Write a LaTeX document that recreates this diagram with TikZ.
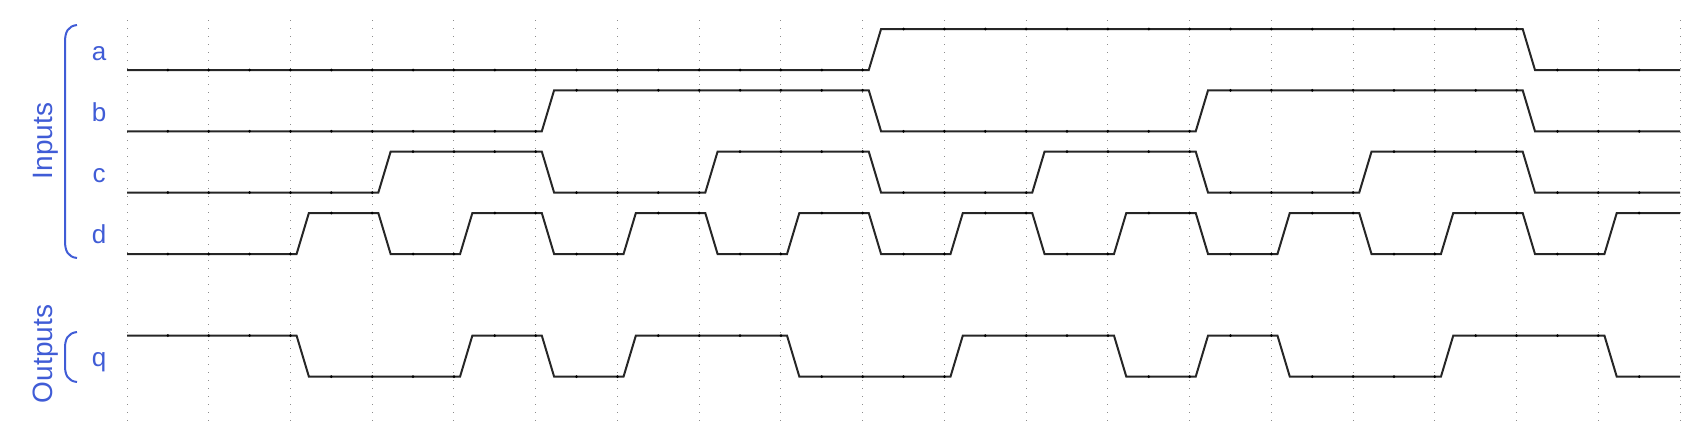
\documentclass[tikz,border=0pt]{standalone}
\usepackage{fontspec}
\setmainfont{Liberation Sans}
\definecolor{grpblue}{RGB}{64,92,214}
\tikzset{
  sig/.style={line width=1pt, black!85, line join=miter},
  dotc/.style={fill=black},
  gridl/.style={line width=0.5pt, black!45, dash pattern=on 0.6pt off 3.4pt},
  brk/.style={line width=1pt, grpblue},
  lanelab/.style={text=grpblue, font=\fontsize{13pt}{15pt}\selectfont, anchor=base, inner sep=0pt},
  grplab/.style={text=grpblue, font=\fontsize{14pt}{16pt}\selectfont, anchor=base, rotate=90, inner sep=0pt}
}
\newcommand\wave[2]{%
  \gdef\prev{-1}\gdef\pts{}\gdef\dts{}%
  \foreach \lv [count=\k from 0] in {#2}{%
    \pgfmathsetmacro\yl{#1-41*\lv}%
    \pgfmathsetmacro\xg{127+\k*81.74}%
    \ifnum\prev=-1\relax
      \xdef\pts{(\xg,\yl)}%
    \else
      \pgfmathsetmacro\yp{#1-41*\prev}%
      \xdef\dts{\dts (\xg,\yp) circle[radius=0.75pt]}%
      \ifnum\prev=\lv\relax\else
        \pgfmathsetmacro\xa{\xg+6.1}%
        \pgfmathsetmacro\xb{\xg+18.4}%
        \xdef\pts{\pts -- (\xa,\yp) -- (\xb,\yl)}%
      \fi
    \fi
    \pgfmathsetmacro\xh{\xg+40.87}%
    \xdef\dts{\dts (\xh,\yl) circle[radius=0.75pt]}%
    \xdef\prev{\lv}%
  }%
  \pgfmathsetmacro\yl{#1-41*\prev}%
  \xdef\pts{\pts -- (1680,\yl)}%
  \edef\tmp{\noexpand\draw[sig] \pts;\noexpand\fill[dotc] \dts;}\tmp
}
\begin{document}
\begin{tikzpicture}[x=0.5pt,y=-0.5pt]
\useasboundingbox (0,0) rectangle (1706,425);
% grid
\foreach \k in {0,...,19}{
  \draw[gridl] ({127+\k*81.74},20) -- ({127+\k*81.74},425);
}
% waves
\wave{70}{0,0,0,0,0,0,0,0,0,1,1,1,1,1,1,1,1,0,0}
\wave{131.3}{0,0,0,0,0,1,1,1,1,0,0,0,0,1,1,1,1,0,0}
\wave{192.6}{0,0,0,1,1,0,0,1,1,0,0,1,1,0,0,1,1,0,0}
\wave{254}{0,0,1,0,1,0,1,0,1,0,1,0,1,0,1,0,1,0,1}
\wave{376.6}{1,1,0,0,1,0,1,1,0,0,1,1,0,1,0,0,1,1,0}
% lane labels
\node[lanelab] (la) at (99,60) {a};
\node[lanelab] (lb) at (99,121) {b};
\node[lanelab] (lc) at (99,182) {c};
\node[lanelab] (ld) at (99,243.5) {d};
\node[lanelab] (lq) at (99,366) {q};
% group brackets
\draw[brk] (77,25) .. controls (68,26) and (65,32) .. (65,42) -- (65,241) .. controls (65,251) and (68,257) .. (77,258);
\draw[brk] (77,332) .. controls (68,333) and (65,339) .. (65,348) -- (65,366) .. controls (65,375) and (68,381) .. (77,382);
\node[grplab] (gin) at (52,141) {Inputs};
\node[grplab] (gout) at (52,354) {Outputs};
\end{tikzpicture}
\end{document}
